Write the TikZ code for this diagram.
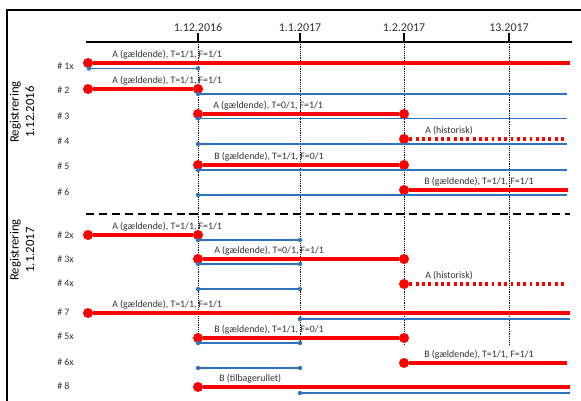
\documentclass[tikz,border=0pt]{standalone}
\usepackage{fontspec}
\setmainfont{Carlito}
\usetikzlibrary{positioning}
\definecolor{regblue}{RGB}{46,117,190}
\definecolor{txtgray}{RGB}{50,50,50}

\begin{document}
\begin{tikzpicture}[x=0.025cm, y=-0.025cm]

% definitions
\tikzstyle{bigdot} = [circle, fill=red, inner sep=0pt, minimum size=0.25cm]

\tikzstyle{smalldot} = [circle, fill=regblue, inner sep=0pt, minimum size=0.11cm]

\tikzstyle{gyldig} = [draw=red, line width=2.2pt]

\tikzstyle{historisk} = [draw=red, line width=2.2pt, dash pattern=on 2.1pt off 2.4pt]

\tikzstyle{registrering} = [draw=regblue, line width=1.05pt]

\tikzstyle{axis} = [draw=black, line width=1.4pt]

\tikzstyle{dateline} = [draw=black, line width=0.6pt, dash pattern=on 0.6pt off 0.7pt]

\tikzstyle{separator} = [draw=black, line width=1.6pt, dash pattern=on 5.7pt off 3.5pt]

\tikzstyle{rowlabel} = [anchor=west, inner sep=0pt, font=\fontsize{7}{8}\selectfont, text=txtgray]

\tikzstyle{statelabel} = [anchor=base west, inner sep=0pt, font=\fontsize{7}{8}\selectfont, text=txtgray]

\tikzstyle{datelabel} = [inner sep=1pt, font=\fontsize{8.5}{9}\selectfont, text=txtgray]

\tikzstyle{reglabel} = [rotate=90, align=center, inner sep=0pt, font=\fontsize{9}{11}\selectfont]

\useasboundingbox (0,0) rectangle (581,401);

% frame
\coordinate (f0) at (7,401);
\coordinate (f1) at (7,10);
\coordinate (f2) at (581,10);
\draw [line width=1pt] (f0) -- (f1) -- (f2);

% time axis
\coordinate (ax0) at (86,42);
\coordinate (ax1) at (572,42);

\coordinate (d1) at (198,33);
\coordinate (d2) at (300,33);
\coordinate (d3) at (404,33);
\coordinate (d4) at (509,33);

\coordinate (d1a) at (198,42);
\coordinate (d2a) at (300,42);
\coordinate (d3a) at (404,42);
\coordinate (d4a) at (509,42);

\coordinate (d1b) at (198,344);
\coordinate (d2b) at (300,344);
\coordinate (d3b) at (404,344);
\coordinate (d4b) at (509,344);

\node (d1l) [datelabel, above=0pt of d1] {1.12.2016};
\node (d2l) [datelabel, above=0pt of d2] {1.1.2017};
\node (d3l) [datelabel, above=0pt of d3] {1.2.2017};
\node (d4l) [datelabel, above=0pt of d4] {13.2017};

\draw [dateline] (d1a) -- (d1b);
\draw [dateline] (d2a) -- (d2b);
\draw [dateline] (d3a) -- (d3b);
\draw [dateline] (d4a) -- (d4b);

\draw [axis] (ax0) -- (ax1);
\draw [axis] (d1) -- (d1a);
\draw [axis] (d2) -- (d2a);
\draw [axis] (d3) -- (d3a);
\draw [axis] (d4) -- (d4a);

% registration 1.12.2016
\node (reg1) [reglabel] at (22,112) {Registrering\\1.12.2016};

\node (l1x) [rowlabel] at (57,66) {\# 1x};
\node (rs1x) [bigdot] at (88,63) {};
\coordinate (re1x) at (570,63);
\node (bs1x) [smalldot] at (89,68.5) {};
\node (be1x) [smalldot] at (198,68.5) {};
\node (t1x) [statelabel] at (112,57) {A (gældende), T=1/1, F=1/1};

\node (l2) [rowlabel] at (57,90) {\# 2};
\node (rs2) [bigdot] at (88,89) {};
\node (re2) [bigdot] at (198,89) {};
\node (bs2) [smalldot] at (198,94) {};
\coordinate (be2) at (567,94);
\node (t2) [statelabel] at (112,83) {A (gældende), T=1/1, F=1/1};

\node (l3) [rowlabel] at (57,116) {\# 3};
\node (rs3) [bigdot] at (198,114) {};
\node (re3) [bigdot] at (404,114) {};
\node (bs3) [smalldot] at (198,118.5) {};
\coordinate (be3) at (567,118.5);
\node (t3) [statelabel] at (213,108) {A (gældende), T=0/1, F=1/1};

\node (l4) [rowlabel] at (57,141) {\# 4};
\node (rs4) [bigdot] at (404,139) {};
\coordinate (re4) at (567,139);
\node (bs4) [smalldot] at (198,144) {};
\coordinate (be4) at (567,144);
\node (t4) [statelabel] at (425,133) {A (historisk)};

\node (l5) [rowlabel] at (57,166) {\# 5};
\node (rs5) [bigdot] at (198,165) {};
\node (re5) [bigdot] at (404,165) {};
\node (bs5) [smalldot] at (198,170) {};
\coordinate (be5) at (567,170);
\node (t5) [statelabel] at (214,159) {B (gældende), T=1/1, F=0/1};

\node (l6) [rowlabel] at (57,192) {\# 6};
\node (rs6) [bigdot] at (404,190) {};
\coordinate (re6) at (568,190);
\node (bs6) [smalldot] at (198,195) {};
\coordinate (be6) at (567,195);
\node (t6) [statelabel] at (424,184) {B (gældende), T=1/1, F=1/1};

\draw [gyldig] (rs1x) -- (re1x);
\draw [registrering] (bs1x) -- (be1x);
\draw [gyldig] (rs2) -- (re2);
\draw [registrering] (bs2) -- (be2);
\draw [gyldig] (rs3) -- (re3);
\draw [registrering] (bs3) -- (be3);
\draw [historisk] (rs4) -- (re4);
\draw [registrering] (bs4) -- (be4);
\draw [gyldig] (rs5) -- (re5);
\draw [registrering] (bs5) -- (be5);
\draw [gyldig] (rs6) -- (re6);
\draw [registrering] (bs6) -- (be6);

% separator
\coordinate (sep0) at (86,214);
\coordinate (sep1) at (570,214);
\draw [separator] (sep0) -- (sep1);

% registration 1.1.2017
\node (reg2) [reglabel] at (22,250) {Registrering\\1.1.2017};

\node (l2x) [rowlabel] at (57,235) {\# 2x};
\node (rs2x) [bigdot] at (88,235) {};
\node (re2x) [bigdot] at (198,235) {};
\node (bs2x) [smalldot] at (198,240) {};
\node (be2x) [smalldot] at (300,240) {};
\node (t2x) [statelabel] at (112,229) {A (gældende), T=1/1, F=1/1};

\node (l3x) [rowlabel] at (57,259) {\# 3x};
\node (rs3x) [bigdot] at (198,259) {};
\node (re3x) [bigdot] at (404,259) {};
\node (bs3x) [smalldot] at (198,264) {};
\node (be3x) [smalldot] at (300,264) {};
\node (t3x) [statelabel] at (214,253) {A (gældende), T=0/1, F=1/1};

\node (l4x) [rowlabel] at (57,283) {\# 4x};
\node (rs4x) [bigdot] at (404,284) {};
\coordinate (re4x) at (567,284);
\node (bs4x) [smalldot] at (198,289) {};
\node (be4x) [smalldot] at (300,289) {};
\node (t4x) [statelabel] at (425,278) {A (historisk)};

\node (l7) [rowlabel] at (57,312) {\# 7};
\node (rs7) [bigdot] at (88,313) {};
\coordinate (re7) at (570,313);
\node (bs7) [smalldot] at (300,319) {};
\coordinate (be7) at (570,319);
\node (t7) [statelabel] at (112,307) {A (gældende), T=1/1, F=1/1};

\node (l5x) [rowlabel] at (57,336) {\# 5x};
\node (rs5x) [bigdot] at (198,338) {};
\node (re5x) [bigdot] at (404,338) {};
\node (bs5x) [smalldot] at (198,343) {};
\node (be5x) [smalldot] at (300,343) {};
\node (t5x) [statelabel] at (214,332) {B (gældende), T=1/1, F=0/1};

\node (l6x) [rowlabel] at (57,362) {\# 6x};
\node (rs6x) [bigdot] at (404,363) {};
\coordinate (re6x) at (567,363);
\node (bs6x) [smalldot] at (198,368) {};
\node (be6x) [smalldot] at (300,368) {};
\node (t6x) [statelabel] at (424,357) {B (gældende), T=1/1, F=1/1};

\node (l8) [rowlabel] at (57,386) {\# 8};
\node (rs8) [bigdot] at (198,387) {};
\coordinate (re8) at (570,387);
\node (bs8) [smalldot] at (300,393) {};
\coordinate (be8) at (570,393);
\node (t8) [statelabel] at (219,381) {B (tilbagerullet)};

\draw [gyldig] (rs2x) -- (re2x);
\draw [registrering] (bs2x) -- (be2x);
\draw [gyldig] (rs3x) -- (re3x);
\draw [registrering] (bs3x) -- (be3x);
\draw [historisk] (rs4x) -- (re4x);
\draw [registrering] (bs4x) -- (be4x);
\draw [gyldig] (rs7) -- (re7);
\draw [registrering] (bs7) -- (be7);
\draw [gyldig] (rs5x) -- (re5x);
\draw [registrering] (bs5x) -- (be5x);
\draw [gyldig] (rs6x) -- (re6x);
\draw [registrering] (bs6x) -- (be6x);
\draw [gyldig] (rs8) -- (re8);
\draw [registrering] (bs8) -- (be8);

\end{tikzpicture}
\end{document}
